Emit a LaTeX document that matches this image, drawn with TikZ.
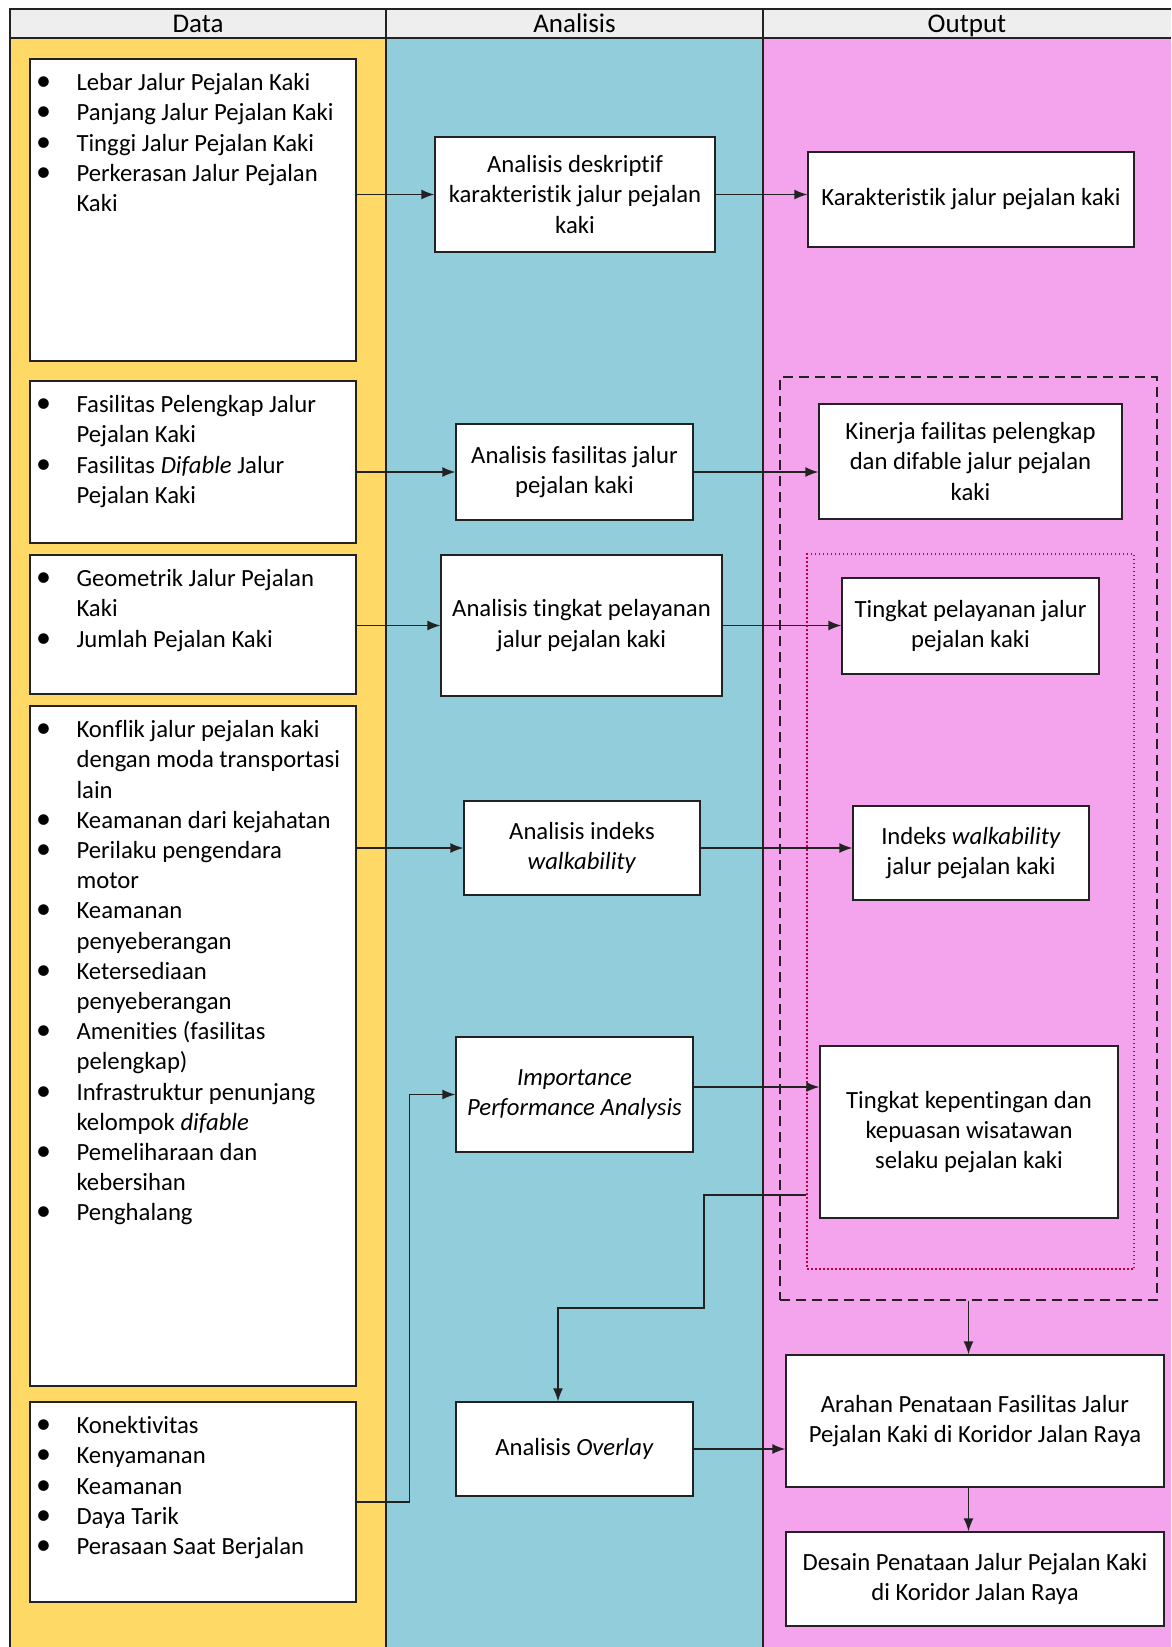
\documentclass[tikz,border=0pt]{standalone}
\usepackage{fontspec}
\setmainfont{Carlito}[Ligatures={NoCommon}]
\usetikzlibrary{arrows.meta,calc}
\definecolor{yel}{HTML}{FFD966}
\definecolor{blu}{HTML}{92CDDC}
\definecolor{pnk}{HTML}{F4A4EC}
\definecolor{hdr}{HTML}{EEEEEE}
\definecolor{ln}{HTML}{222222}
\definecolor{redd}{HTML}{C0003C}
\newcommand{\bl}{\makebox[33pt][l]{\makebox[0pt]{\raisebox{0pt}[0pt][0pt]{\fontsize{30}{30}\selectfont\textbullet}}}}
\begin{document}
\begin{tikzpicture}[x=1pt,y=-1pt,
 box/.style={draw=ln, fill=white, line width=1.3pt, inner sep=0pt, align=center, font=\fontsize{24.7}{30.2}\selectfont},
 lst/.style={anchor=north west, inner sep=0pt, font=\fontsize{24.7}{30.2}\selectfont},
 arr/.style={draw=ln, line width=1.4pt, -{Latex[length=13pt,width=10pt]}},
 hd/.style={font=\fontsize{27}{30}\selectfont, inner sep=0pt, anchor=base},
 sep/.style={draw=ln, line width=1.1pt},
]
\useasboundingbox (0,0) rectangle (1171,1647);
% backgrounds
\fill[yel] (10,38) rectangle (386,1647);
\fill[blu] (386,38) rectangle (763,1647);
\fill[pnk] (763,38) rectangle (1171,1647);
\fill[hdr] (10,9) rectangle (1171,38);
\draw[sep] (1171,9) -- (10,9) -- (10,1647);
\draw[sep] (10,38) -- (1171,38);
\draw[sep] (386,9) -- (386,1647);
\draw[sep] (763,9) -- (763,1647);
\node[hd] (hData) at (198,32) {Data};
\node[hd] (hAnalisis) at (574.5,32) {Analisis};
\node[hd] (hOutput) at (967,32) {Output};

% grouping frames
\node[draw=ln, dash pattern=on 10pt off 6pt, line width=1.3pt, minimum width=377pt, minimum height=923pt, inner sep=0pt] (dbox) at (968.5,838.5) {};
\node[draw=redd, dash pattern=on 1.5pt off 2.5pt, line width=1.3pt, minimum width=327pt, minimum height=715pt, inner sep=0pt] (rbox) at (970.5,911.5) {};

% data boxes
\node[box, minimum width=326pt, minimum height=302pt] (D1) at (193,210) {};
\node[box, minimum width=326pt, minimum height=162pt] (D2) at (193,462) {};
\node[box, minimum width=326pt, minimum height=139pt] (D3) at (193,624.5) {};
\node[box, minimum width=326pt, minimum height=680pt] (D4) at (193,1046) {};
\node[box, minimum width=326pt, minimum height=200pt] (D5) at (193,1502) {};

\node[lst] (D1t) at ([xshift=14pt,yshift=-11pt]D1.north west) {\begin{tabular}{@{}l@{}l@{}}
\bl & Lebar Jalur Pejalan Kaki\\
\bl & Panjang Jalur Pejalan Kaki\\
\bl & Tinggi Jalur Pejalan Kaki\\
\bl & Perkerasan Jalur Pejalan\\
 & Kaki
\end{tabular}};
\node[lst] (D2t) at ([xshift=14pt,yshift=-11pt]D2.north west) {\begin{tabular}{@{}l@{}l@{}}
\bl & Fasilitas Pelengkap Jalur\\
 & Pejalan Kaki\\
\bl & Fasilitas \textit{Difable} Jalur\\
 & Pejalan Kaki
\end{tabular}};
\node[lst] (D3t) at ([xshift=14pt,yshift=-11pt]D3.north west) {\begin{tabular}{@{}l@{}l@{}}
\bl & Geometrik Jalur Pejalan\\
 & Kaki\\
\bl & Jumlah Pejalan Kaki
\end{tabular}};
\node[lst] (D4t) at ([xshift=14pt,yshift=-11pt]D4.north west) {\begin{tabular}{@{}l@{}l@{}}
\bl & Konflik jalur pejalan kaki\\
 & dengan moda transportasi\\
 & lain\\
\bl & Keamanan dari kejahatan\\
\bl & Perilaku pengendara\\
 & motor\\
\bl & Keamanan\\
 & penyeberangan\\
\bl & Ketersediaan\\
 & penyeberangan\\
\bl & Amenities (fasilitas\\
 & pelengkap)\\
\bl & Infrastruktur penunjang\\
 & kelompok \textit{difable}\\
\bl & Pemeliharaan dan\\
 & kebersihan\\
\bl & Penghalang
\end{tabular}};
\node[lst] (D5t) at ([xshift=14pt,yshift=-11pt]D5.north west) {\begin{tabular}{@{}l@{}l@{}}
\bl & Konektivitas\\
\bl & Kenyamanan\\
\bl & Keamanan\\
\bl & Daya Tarik\\
\bl & Perasaan Saat Berjalan
\end{tabular}};

% analysis boxes
\node[box, minimum width=280pt, minimum height=115pt] (A1) at (575,194.5) {Analisis deskriptif\\karakteristik jalur pejalan\\kaki};
\node[box, minimum width=237pt, minimum height=96pt] (A2) at (574.5,472) {Analisis fasilitas jalur\\pejalan kaki};
\node[box, minimum width=281pt, minimum height=141pt] (A3) at (581.5,625.5) {Analisis tingkat pelayanan\\jalur pejalan kaki};
\node[box, minimum width=236pt, minimum height=94pt] (A4) at (582,848) {Analisis indeks\\\textit{walkability}};
\node[box, minimum width=237pt, minimum height=115pt] (A5) at (574.5,1094.5) {\textit{Importance}\\\textit{Performance Analysis}};
\node[box, minimum width=237pt, minimum height=94pt] (A6) at (574.5,1449) {Analisis \textit{Overlay}};

% output boxes
\node[box, minimum width=326pt, minimum height=95pt] (O1) at (971,199.5) {Karakteristik jalur pejalan kaki};
\node[box, minimum width=303pt, minimum height=115pt] (O2) at (970.5,461.5) {Kinerja failitas pelengkap\\dan difable jalur pejalan\\kaki};
\node[box, minimum width=257pt, minimum height=96pt] (O3) at (970.5,626) {Tingkat pelayanan jalur\\pejalan kaki};
\node[box, minimum width=236pt, minimum height=94pt] (O4) at (971,853) {Indeks \textit{walkability}\\jalur pejalan kaki};
\node[box, minimum width=298pt, minimum height=172pt] (O5) at (969,1132) {Tingkat kepentingan dan\\kepuasan wisatawan\\selaku pejalan kaki};
\node[box, minimum width=378pt, minimum height=132pt] (O6) at (975,1421) {Arahan Penataan Fasilitas Jalur\\Pejalan Kaki di Koridor Jalan Raya};
\node[box, minimum width=378pt, minimum height=94pt] (O7) at (975,1579) {Desain Penataan Jalur Pejalan Kaki\\di Koridor Jalan Raya};

% connectors
\draw[arr] (A1.west -| D1.east) -- (A1.west);
\draw[arr] (A1.east) -- (A1.east -| O1.west);
\draw[arr] (A2.west -| D2.east) -- (A2.west);
\draw[arr] (A2.east) -- (A2.east -| O2.west);
\draw[arr] (A3.west -| D3.east) -- (A3.west);
\draw[arr] (A3.east) -- (A3.east -| O3.west);
\draw[arr] (A4.west -| D4.east) -- (A4.west);
\draw[arr] (A4.east) -- (A4.east -| O4.west);
\draw[arr] ([yshift=7.5pt]A5.east) -- ([yshift=7.5pt]A5.east -| O5.west);
\draw[arr] (D5.east) -- ++(53,0) |- (A5.west);
\coordinate (c1) at (704,1195);
\draw[arr] (c1 -| rbox.west) -- (c1) |- (558,1308) -- ([xshift=-16.5pt]A6.north);
\draw[arr] (dbox.south) -- (dbox.south |- O6.north);
\draw[arr] (O6.south -| dbox.south) -- (O7.north -| dbox.south);
\draw[arr] (A6.east) -- (A6.east -| O6.west);
\end{tikzpicture}
\end{document}
